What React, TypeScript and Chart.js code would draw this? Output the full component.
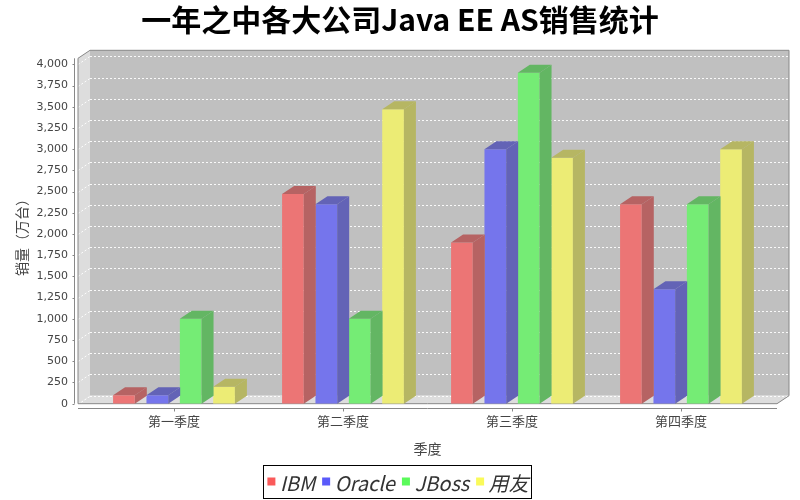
import { useEffect, useRef } from "react"
import { Chart, registerables } from "chart.js"

Chart.register(...registerables)

const quarters = ["第一季度", "第二季度", "第三季度", "第四季度"]
const seriesNames = ["IBM", "Oracle", "JBoss", "用友"]
const ibmSales = [100, 2470, 1900, 2350]
const oracleSales = [100, 2350, 3000, 1350]
const jbossSales = [1000, 1000, 3900, 2350]
const yonyouSales = [200, 3470, 2900, 3000]
const yTickValues = [0, 250, 500, 750, 1000, 1250, 1500, 1750, 2000, 2250, 2500, 2750, 3000, 3250, 3500, 3750, 4000]

const frontColors = ["rgb(236,117,117)", "rgb(117,117,236)", "rgb(117,236,117)", "rgb(236,236,117)"]
const sideColors = ["rgb(182,99,99)", "rgb(99,99,182)", "rgb(99,182,99)", "rgb(182,182,99)"]
const legendColors = ["rgb(250,90,90)", "rgb(90,90,250)", "rgb(90,250,90)", "rgb(250,250,90)"]

const FONT = '"Noto Sans CJK SC", "Noto Sans", sans-serif'
const DX = 12
const DY = 8
const SIDE_PAD = 11.5

function poly(ctx: CanvasRenderingContext2D, pts: number[][]) {
  ctx.beginPath()
  pts.forEach(([x, y], i) => (i === 0 ? ctx.moveTo(x, y) : ctx.lineTo(x, y)))
  ctx.closePath()
}

function seg(ctx: CanvasRenderingContext2D, x1: number, y1: number, x2: number, y2: number) {
  ctx.beginPath()
  ctx.moveTo(x1, y1)
  ctx.lineTo(x2, y2)
  ctx.stroke()
}

// 3D plot box, gridlines on the back wall, axis lines, bar sides/tops, framed legend
const bar3d = {
  id: "bar3d",
  beforeDatasetsDraw(chart: any) {
    const { ctx, chartArea: a, scales } = chart
    const y = scales.y
    const x = scales.x
    const L = a.left - SIDE_PAD
    const R = a.right + SIDE_PAD
    const B = y.getPixelForValue(0)
    const T = a.top - 6
    ctx.save()
    ctx.fillStyle = "#c0c0c0"
    ctx.fillRect(L + DX, T - DY, R - L, B - T)
    ctx.fillStyle = "#dddddd"
    poly(ctx, [[L, T], [L + DX, T - DY], [L + DX, B - DY], [L, B]])
    ctx.fill()
    poly(ctx, [[L, B], [L + DX, B - DY], [R + DX, B - DY], [R, B]])
    ctx.fill()

    ctx.strokeStyle = "rgba(255,255,255,0.9)"
    ctx.lineWidth = 1
    ctx.setLineDash([2, 2])
    yTickValues.forEach((v) => {
      const py = Math.round(y.getPixelForValue(v)) + 0.5
      seg(ctx, L, py, L + DX, py - DY)
      seg(ctx, L + DX, py - DY, R + DX, py - DY)
    })
    ctx.setLineDash([])

    ctx.strokeStyle = "#888"
    poly(ctx, [[L, B], [L, T], [L + DX, T - DY], [R + DX, T - DY], [R + DX, B - DY], [R, B]])
    ctx.stroke()

    // value axis
    const ax = Math.round(L - 4) + 0.5
    seg(ctx, ax, T, ax, B)
    yTickValues.forEach((v) => {
      const py = Math.round(y.getPixelForValue(v)) + 0.5
      seg(ctx, ax - 2, py, ax, py)
    })
    // category axis
    const ay = Math.round(B + 4) + 0.5
    seg(ctx, L, ay, R, ay)
    quarters.forEach((_, i) => {
      const px = Math.round(x.getPixelForValue(i)) + 0.5
      seg(ctx, px, ay, px, ay + 3)
    })
    ctx.restore()
  },
  afterDatasetsDraw(chart: any) {
    const { ctx } = chart
    ctx.save()
    chart.data.datasets.forEach((_: any, i: number) => {
      const meta = chart.getDatasetMeta(i)
      meta.data.forEach((bar: any) => {
        const { x, y, base, width } = bar.getProps(["x", "y", "base", "width"], true)
        const l = x - width / 2
        const r = x + width / 2
        ctx.fillStyle = sideColors[i]
        poly(ctx, [[r, y], [r + DX, y - DY], [r + DX, base - DY], [r, base]])
        ctx.fill()
        poly(ctx, [[l, y], [l + DX, y - DY], [r + DX, y - DY], [r, y]])
        ctx.fill()
      })
    })
    ctx.restore()
  },
  afterDraw(chart: any) {
    const { ctx } = chart
    const marker = 8
    const gapText = 4.5
    const gapItem = 7
    const cy = 482
    ctx.save()
    ctx.font = `italic 20px ${FONT}`
    const widths = seriesNames.map((n) => ctx.measureText(n).width)
    const total = widths.reduce((s, w) => s + marker + gapText + w, 0) + gapItem * (seriesNames.length - 1)
    let cx = 398 - total / 2
    const left = cx - 4
    ctx.textBaseline = "middle"
    ctx.textAlign = "left"
    seriesNames.forEach((n, i) => {
      ctx.fillStyle = legendColors[i]
      ctx.fillRect(cx, cy - 4.5, marker, marker)
      cx += marker + gapText
      ctx.fillStyle = "#333"
      ctx.fillText(n, cx, cy + 1)
      cx += widths[i] + gapItem
    })
    const right = cx - gapItem + 3
    ctx.strokeStyle = "#000"
    ctx.lineWidth = 1
    ctx.strokeRect(Math.round(left) + 0.5, 465.5, Math.round(right - left), 33)
    ctx.restore()
  },
}

function SalesChart() {
  const chartRef = useRef<HTMLCanvasElement>(null)
  const chartInstance = useRef<Chart | null>(null)

  useEffect(() => {
    if (!chartRef.current) return
    if (chartInstance.current) {
      chartInstance.current.destroy()
    }
    const ctx = chartRef.current.getContext("2d")
    if (!ctx) return

    const series = [ibmSales, oracleSales, jbossSales, yonyouSales]

    chartInstance.current = new Chart(ctx, {
      type: "bar",
      data: {
        labels: quarters,
        datasets: series.map((values, i) => ({
          label: seriesNames[i],
          data: values,
          backgroundColor: frontColors[i],
          borderWidth: 0,
          barPercentage: 0.65,
          categoryPercentage: 0.79,
        })),
      },
      plugins: [bar3d],
      options: {
        animation: false,
        responsive: true,
        maintainAspectRatio: false,
        locale: "en-US",
        layout: { padding: { left: 0, right: 0, top: 0, bottom: 36.3 } },
        plugins: {
          title: {
            display: true,
            text: "一年之中各大公司Java EE AS销售统计",
            color: "#000",
            font: { family: FONT, size: 30, weight: "bold" },
            padding: { top: 2, bottom: 26.3 },
          },
          legend: { display: false },
          tooltip: { enabled: false },
        },
        scales: {
          x: {
            grid: { display: false, drawTicks: false },
            border: { display: false },
            ticks: { color: "#444", font: { family: FONT, size: 13 }, padding: 10 },
            title: {
              display: true,
              text: "季度",
              color: "#444",
              font: { family: FONT, size: 14 },
              padding: { top: 0, bottom: 7 },
            },
            afterFit: (s: any) => {
              s.height = 60
            },
          },
          y: {
            min: 0,
            max: 4000,
            afterBuildTicks: (s: any) => {
              s.ticks = yTickValues.map((v) => ({ value: v }))
            },
            grid: { display: false, drawTicks: false },
            border: { display: false },
            ticks: { color: "#444", font: { family: "DejaVu Sans", size: 11 }, padding: 21.5 },
            title: {
              display: true,
              text: "销量（万台）",
              color: "#444",
              font: { family: FONT, size: 14 },
              padding: { top: 13.6, bottom: 0 },
            },
            afterFit: (s: any) => {
              s.width = 89.5
            },
          },
          // empty right-hand gutter so the title stays centred on the page
          gutter: {
            type: "linear",
            position: "right",
            display: true,
            grid: { display: false, drawTicks: false },
            border: { display: false },
            ticks: { display: false },
            afterFit: (s: any) => {
              s.width = 34.5
            },
          },
        },
      } as any,
    })

    return () => {
      if (chartInstance.current) {
        chartInstance.current.destroy()
        chartInstance.current = null
      }
    }
  }, [])

  return (
    <div style={{ position: "fixed", left: 0, top: 0, width: 800, height: 500, background: "#fff" }}>
      <canvas ref={chartRef}></canvas>
    </div>
  )
}

export default function App() {
  return <SalesChart />
}
